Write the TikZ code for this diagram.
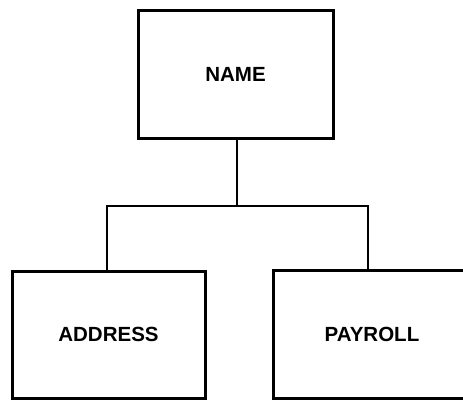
\documentclass[tikz,border=0pt]{standalone}
\usepackage{fontspec}
\setmainfont{Liberation Sans}
\begin{document}
\begin{tikzpicture}[x=1pt,y=-1pt,
  record/.style={draw=black,line width=3pt,fill=none,inner sep=0pt,
    font=\fontsize{20.5}{24}\selectfont\bfseries},
  link/.style={draw=black,line width=2.8pt}]
  \useasboundingbox (0,0) rectangle (463,400);
  \clip (0,0) rectangle (463,400);
  % record boxes
  \node[record,minimum width=195pt,minimum height=128pt] (name) at (235.5,74) {NAME};
  \node[record,minimum width=193pt,minimum height=127pt] (addr) at (108.5,334.5) {ADDRESS};
  \node[record,minimum width=198pt,minimum height=128pt] (pay) at (372,334) {PAYROLL};
  % branching connector
  \coordinate (busL) at (107,206);
  \coordinate (busR) at (368,206);
  \draw[link] (name.south -| 237,0) -- (237,206);
  \draw[link,line join=miter] (addr.north -| busL) -- (busL) -- (busR) -- (pay.north -| busR);
\end{tikzpicture}
\end{document}
